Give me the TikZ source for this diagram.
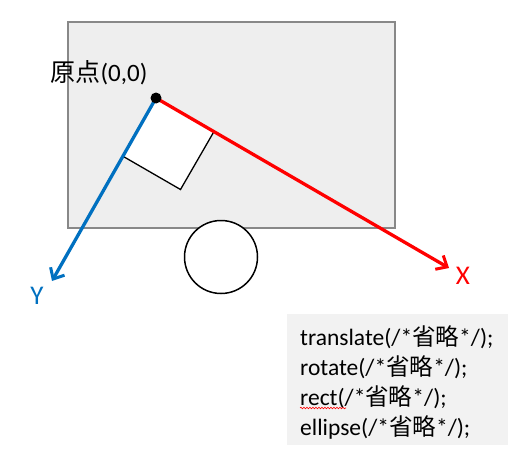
\documentclass[tikz,border=0pt]{standalone}
\usepackage{fontspec}
\setmainfont{Carlito}
\newfontfamily\cjk{Noto Sans CJK JP}
\usetikzlibrary{arrows.meta,decorations.pathmorphing}
\definecolor{axred}{HTML}{FF0000}
\definecolor{axblue}{HTML}{0070C0}
\definecolor{canvasgray}{HTML}{EEEEEE}
\definecolor{canvasborder}{HTML}{888888}
\definecolor{codegray}{HTML}{F2F2F2}
\tikzset{
  axis/.style={line width=3.3pt,-{Straight Barb[length=9pt,width=16pt,line width=3pt]}},
  codeline/.style={anchor=west,inner sep=0pt,font=\fontsize{23.5}{23.5}\selectfont},
}
\begin{document}
\begin{tikzpicture}[x=1pt,y=-1pt]
\useasboundingbox (0,0) rectangle (527,460);
% canvas
\node[draw=canvasborder,fill=canvasgray,line width=2pt,minimum width=327pt,minimum height=206pt,inner sep=0pt] (canvas) at (231.5,125) {};
% circle
\node[draw=black,fill=white,circle,line width=1.5pt,minimum size=73pt,inner sep=0pt] (circ) at (221,257) {};
% rotated square
\coordinate (o) at (156,98);
\begin{scope}[shift={(o)}]
  \draw[line width=1.3pt,fill=white] (0,0) -- (58,33.5) -- (24.5,91.5) -- (-33.5,58) -- cycle;
\end{scope}
% axes
\coordinate (xt) at (449,268);
\coordinate (yt) at (52,281);
\draw[axis,axred] (o) -- (xt);
\draw[axis,axblue] (o) -- (yt);
\fill (o) circle (5.5pt);
% labels
\node[font=\fontsize{25}{25}\selectfont,anchor=center] (orig) at (99,73) {{\cjk 原点}(0,0)};
\node[font=\fontsize{27}{27}\selectfont,text=axred] (xl) at (463,276) {X};
\node[font=\fontsize{27}{27}\selectfont,text=axblue] (yl) at (37,296) {Y};
% code box
\node[fill=codegray,minimum width=221pt,minimum height=131pt,inner sep=0pt] (code) at (397.5,379.5) {};
\node[codeline] (l1) at (300,337) {translate(/*{\cjk 省略}*/);};
\node[codeline] (l2) at (300,367) {rotate(/*{\cjk 省略}*/);};
\node[codeline] (l3) at (300,397) {rect(/*{\cjk 省略}*/);};
\node[codeline] (l4) at (300,427) {ellipse(/*{\cjk 省略}*/);};
\draw[axred,line width=0.6pt,decorate,decoration={snake,amplitude=0.8pt,segment length=3pt}] (300,408) -- (346,408);
\end{tikzpicture}
\end{document}
